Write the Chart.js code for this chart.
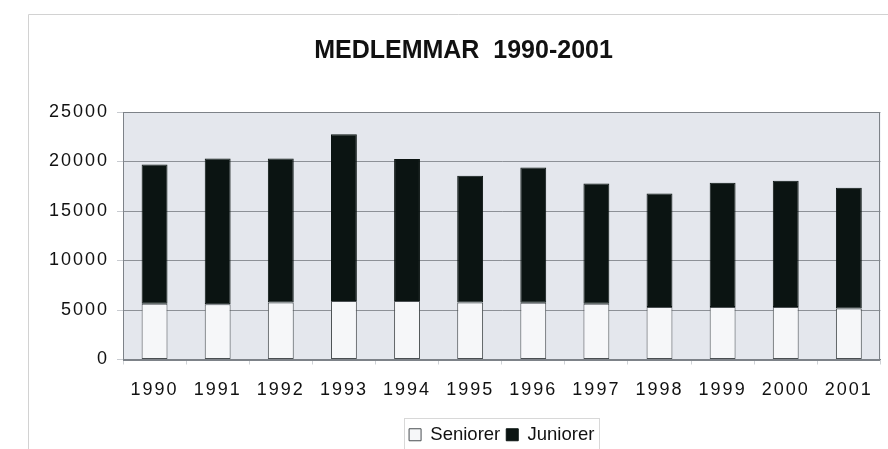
<!DOCTYPE html>
<html>
<head>
<meta charset="utf-8">
<script src="https://cdn.jsdelivr.net/npm/chart.js@4"></script>
<style>
html,body{margin:0;padding:0;background:#fff;}
#wrap{position:relative;width:888px;height:449px;}
canvas{display:block;}
</style>
</head>
<body>
<div id="wrap"><canvas id="c" width="888" height="449"></canvas></div>
<script>
const years = ['1990','1991','1992','1993','1994','1995','1996','1997','1998','1999','2000','2001'];
const seniorer = [5640,5570,5770,5900,5900,5770,5740,5640,5300,5300,5300,5160];
const totals   = [19700,20310,20310,22740,20240,18560,19400,17780,16770,17850,18050,17340];
const juniorer = totals.map((t,i)=>t-seniorer[i]);
const yTicks = [0,5000,10000,15000,20000,25000];

function noSpacing(obj, name){
  if(!obj || obj['_ns_'+name]) return;
  const orig=obj[name];
  obj[name]=function(...args){
    const ctx=this.ctx; const prev=ctx.letterSpacing;
    ctx.letterSpacing='0px';
    const r=orig.apply(this,args);
    ctx.letterSpacing=prev;
    return r;
  };
  obj['_ns_'+name]=true;
}

const spacing = {
  id:'spacing',
  beforeUpdate(chart){
    chart.ctx.letterSpacing='2px';
    noSpacing(chart.legend,'fit'); noSpacing(chart.legend,'draw');
    noSpacing(chart.titleBlock,'fit'); noSpacing(chart.titleBlock,'draw');
  },
  beforeLayout(chart){ chart.ctx.letterSpacing='2px'; },
  beforeDraw(chart){
    const ctx=chart.ctx, a=chart.chartArea;
    ctx.letterSpacing='2px';
    ctx.save();
    ctx.strokeStyle='#d2d2d2'; ctx.lineWidth=1;
    ctx.beginPath(); ctx.moveTo(28.5,449); ctx.lineTo(28.5,14.5); ctx.lineTo(888,14.5); ctx.stroke();
    ctx.fillStyle='#e4e7ed';
    ctx.fillRect(a.left,a.top,a.right-a.left,a.bottom-a.top);
    ctx.restore();
  },
  afterDraw(chart){
    const ctx=chart.ctx, a=chart.chartArea;
    ctx.save();
    ctx.strokeStyle='#7d8288'; ctx.lineWidth=1;
    ctx.strokeRect(Math.round(a.left)+0.5,Math.round(a.top)+0.5,Math.round(a.right-a.left)-1,Math.round(a.bottom-a.top));
    const hb=chart.legend.legendHitBoxes;
    if(hb && hb.length){
      let l=Infinity,r=-Infinity,t=Infinity,b=-Infinity;
      hb.forEach(h=>{l=Math.min(l,h.left);r=Math.max(r,h.left+h.width);t=Math.min(t,h.top);b=Math.max(b,h.top+h.height);});
      ctx.strokeStyle='#d8d8d8';
      ctx.strokeRect(Math.round(l-5)+0.5,Math.round(t-8)+0.5,Math.round(r-l+10),Math.round(b-t+16));
    }
    ctx.restore();
  }
};

new Chart(document.getElementById('c'),{
  type:'bar',
  data:{
    labels:years,
    datasets:[
      {label:'Seniorer',data:seniorer,backgroundColor:'#f6f7f9',borderColor:'#4a4f52',borderWidth:1,borderSkipped:false,barPercentage:0.41,categoryPercentage:1},
      {label:'Juniorer',data:juniorer,backgroundColor:'#0b1412',borderColor:'#0b1412',borderWidth:1,borderSkipped:false,barPercentage:0.41,categoryPercentage:1}
    ]
  },
  options:{
    responsive:false,
    animation:false,
    layout:{padding:{left:42,right:3,top:0,bottom:-5}},
    plugins:{
      title:{display:true,text:'MEDLEMMAR  1990-2001',color:'#111',font:{family:'"Liberation Sans", Arial, sans-serif',size:25,weight:'bold'},padding:{top:36,bottom:46}},
      legend:{position:'bottom',fullSize:false,labels:{color:'#111',boxWidth:12,boxHeight:12,padding:6,font:{family:'"Liberation Sans", Arial, sans-serif',size:18.5}}},
      tooltip:{enabled:false}
    },
    scales:{
      x:{
        stacked:true,
        afterFit(s){s.height=60;},
        grid:{display:true,drawOnChartArea:false,drawTicks:true,tickLength:5,color:'#cfd2d6',offset:true},
        border:{display:true,color:'#7d8288'},
        ticks:{color:'#111',padding:15,maxRotation:0,font:{family:'"Liberation Sans", Arial, sans-serif',size:18}}
      },
      y:{
        stacked:true,min:0,max:25000,
        afterFit(s){s.width=81;},
        afterBuildTicks(s){s.ticks=yTicks.map(v=>({value:v}));},
        grid:{color:'#8d9197',tickLength:6,tickColor:'#c8cbd0'},
        border:{display:true,color:'#7d8288'},
        ticks:{color:'#111',padding:8,callback:v=>String(v),font:{family:'"Liberation Sans", Arial, sans-serif',size:18}}
      }
    }
  },
  plugins:[spacing]
});
</script>
</body>
</html>
